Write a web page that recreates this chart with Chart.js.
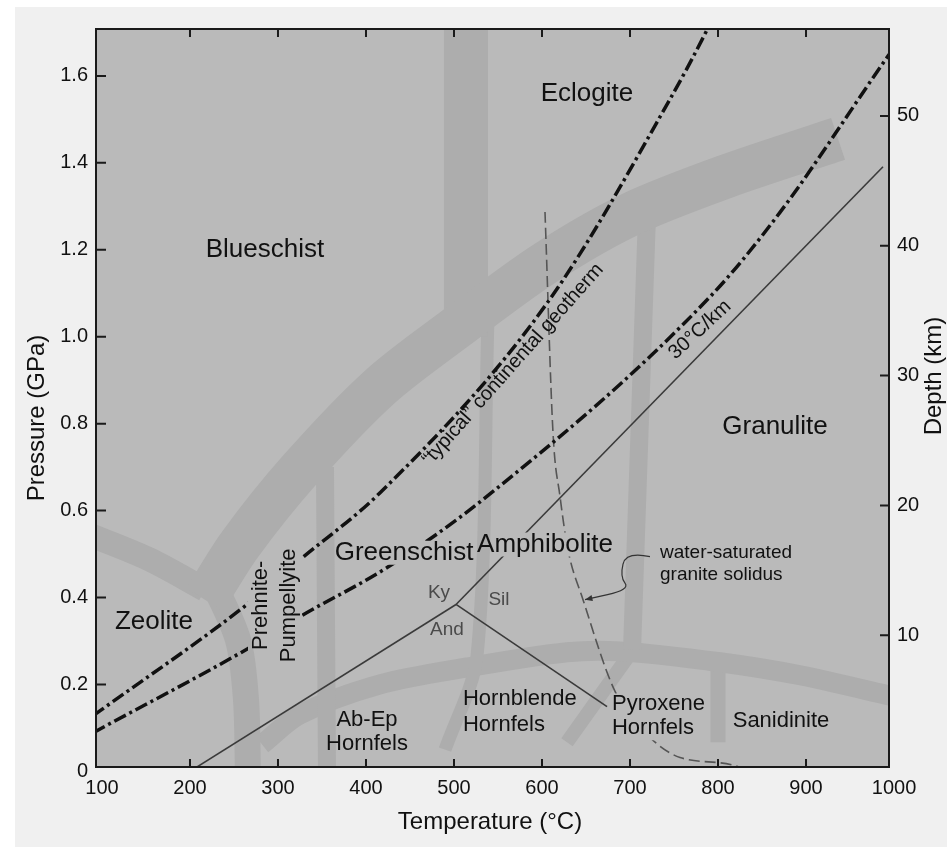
<!DOCTYPE html>
<html>
<head>
<meta charset="utf-8">
<script src="https://cdn.jsdelivr.net/npm/chart.js@4.4.0/dist/chart.umd.min.js"></script>
<style>
  html, body { margin: 0; padding: 0; background: #fff; }
  #wrap { position: absolute; left: 15px; top: 7px; width: 932px; height: 840px; }
</style>
</head>
<body>
<div id="wrap"><canvas id="chart" width="932" height="840"></canvas></div>
<script>
// axis ticks
const tempTicks = [100, 200, 300, 400, 500, 600, 700, 800, 900, 1000];
const pressureTicks = [0, 0.2, 0.4, 0.6, 0.8, 1.0, 1.2, 1.4, 1.6];
const depthTicks = [10, 20, 30, 40, 50];

// geotherms (T °C, P GPa)
const geoTypicalT = [90, 268, 325, 416, 606, 745, 788, 800];
const geoTypicalP = [0.128, 0.389, 0.487, 0.641, 1.078, 1.545, 1.708, 1.76];
const geo30T = [90, 268, 325, 424, 537, 791, 870, 994, 1000];
const geo30P = [0.089, 0.285, 0.356, 0.469, 0.632, 1.092, 1.285, 1.648, 1.665];

// Al2SiO5 reactions + granite solidus
const kyAndT = [200, 502.3];
const kyAndP = [0.0, 0.384];
const kySilT = [502.3, 987.5];
const kySilP = [0.384, 1.391];
const andSilT = [502.3, 673.9];
const andSilP = [0.384, 0.149];
const solidusT = [603.4, 612.5, 620.5, 629.5, 646.6, 683, 722.7, 756.8, 821.6, 830];
const solidusP = [1.287, 0.779, 0.632, 0.510, 0.395, 0.184, 0.078, 0.032, 0.0115, 0.0];

// facies boundary bands (centre lines)
const bandMainT = [217, 256.8, 325, 415.9, 503.4, 601.1, 698.9, 808, 936.4];
const bandMainP = [0.395, 0.522, 0.694, 0.885, 1.022, 1.166, 1.280, 1.368, 1.455];
const bandEcloT = [513.6, 513.6];
const bandEcloP = [1.75, 1.0];
const bandZeoTopT = [85, 154.5, 217];
const bandZeoTopP = [0.545, 0.487, 0.418];
const bandZeoT = [225, 254.5, 263.6, 265.9];
const bandZeoP = [0.441, 0.303, 0.166, -0.01];
const bandPpT = [353.4, 355.7];
const bandPpP = [0.70, -0.01];
const bandGsT = [538.6, 526.1, 489.8];
const bandGsP = [1.039, 0.264, 0.05];
const bandGranT = [719.3, 702.3];
const bandGranP = [1.28, 0.28];
const bandHfT = [281.8, 325, 415.9, 514.8, 628.4, 688.6, 802.3, 893.2, 1000];
const bandHfP = [0.062, 0.131, 0.2, 0.239, 0.274, 0.276, 0.251, 0.221, 0.172];
const bandPxT = [703.4, 628.4];
const bandPxP = [0.28, 0.067];
const bandSanT = [800, 800];
const bandSanP = [0.257, 0.067];

// text labels
const faciesNames = ['Eclogite', 'Blueschist', 'Zeolite', 'Greenschist', 'Amphibolite', 'Granulite'];
const faciesT = [651.1, 285.2, 159.1, 443.2, 603.4, 864.8];
const faciesP = [1.559, 1.2, 0.343, 0.503, 0.522, 0.793];
const hornfelsNames = ['Ab-Ep', 'Hornfels', 'Hornblende', 'Hornfels', 'Pyroxene', 'Hornfels', 'Sanidinite'];
const hornfelsT = [401.1, 401.1, 510.2, 510.2, 679.5, 679.5, 871.6];
const hornfelsP = [0.119, 0.064, 0.166, 0.106, 0.156, 0.099, 0.115];
const mineralNames = ['Ky', 'Sil', 'And'];
const mineralT = [483, 551.1, 492];
const mineralP = [0.411, 0.395, 0.326];
const arrowT = [722.7, 695.5, 688.6, 700, 648.9];
const arrowP = [0.494, 0.506, 0.448, 0.418, 0.395];

const FONT = "'Liberation Sans', Arial, Helvetica, sans-serif";
const pts = (ts, ps) => ts.map((t, i) => ({ x: t, y: ps[i] }));

function band(ts, ps, w) {
    return { data: pts(ts, ps), borderColor: '#adadad', borderWidth: w, pointRadius: 0,
        tension: 0.3, borderCapStyle: 'butt', borderJoinStyle: 'round', clip: 0, order: 10 };
}
function line(ts, ps, color, w, dash, smooth) {
    return { data: pts(ts, ps), borderColor: color, borderWidth: w, borderDash: dash, pointRadius: 0,
        cubicInterpolationMode: smooth ? 'monotone' : 'default', clip: 0, order: 1, knockout: true };
}

const dashDot = [13, 4, 3, 4];

const datasets = [
    band(bandMainT, bandMainP, 44),
    band(bandEcloT, bandEcloP, 44),
    band(bandZeoTopT, bandZeoTopP, 24),
    band(bandZeoT, bandZeoP, 26),
    band(bandPpT, bandPpP, 18),
    band(bandGsT, bandGsP, 13),
    band(bandGranT, bandGranP, 18),
    band(bandHfT, bandHfP, 20),
    band(bandPxT, bandPxP, 14),
    band(bandSanT, bandSanP, 15),
    line(geoTypicalT, geoTypicalP, '#111', 3.5, dashDot, true),
    line(geo30T, geo30P, '#111', 3.5, dashDot, true),
    line(kyAndT, kyAndP, '#3a3a3a', 1.6, [], false),
    line(kySilT, kySilP, '#3a3a3a', 1.6, [], false),
    line(andSilT, andSilP, '#3a3a3a', 1.6, [], false),
    line(solidusT, solidusP, '#555', 1.6, [11, 5], true)
];

function txt(ctx, s, x, y, size, color, align, angle) {
    ctx.save();
    ctx.translate(x, y);
    if (angle) ctx.rotate(angle * Math.PI / 180);
    ctx.font = size + 'px ' + FONT;
    ctx.fillStyle = color || '#111';
    ctx.textAlign = align || 'center';
    ctx.textBaseline = 'middle';
    ctx.fillText(s, 0, 0);
    ctx.restore();
}

function textWidth(ctx, s, size) {
    ctx.save();
    ctx.font = size + 'px ' + FONT;
    const w = ctx.measureText(s).width;
    ctx.restore();
    return w;
}

// areas where the lines are hidden behind a label
function knockoutBoxes(chart) {
    const { ctx, scales: { x, y } } = chart;
    const X = v => x.getPixelForValue(v), Y = v => y.getPixelForValue(v);
    const boxes = [];
    [3, 4].forEach(i => {
        const w = textWidth(ctx, faciesNames[i], 26);
        boxes.push([X(faciesT[i]) - w / 2 - 2, Y(faciesP[i]) - 12, w + 4, 24]);
    });
    const pw = textWidth(ctx, 'Pumpellyite', 22);
    boxes.push([X(296.6) - 27, Y(0.382) - pw / 2 - 2, 54, pw + 4]);
    const xw = textWidth(ctx, 'Pyroxene', 22);
    boxes.push([X(hornfelsT[4]) - 2, Y(hornfelsP[4]) - 10, xw + 4, Y(hornfelsP[5]) - Y(hornfelsP[4]) + 22]);
    return boxes;
}

const decor = {
    id: 'decor',
    beforeDraw(chart) {
        const { ctx, chartArea: a } = chart;
        ctx.save();
        ctx.fillStyle = '#f0f0f0';
        ctx.fillRect(0, 0, chart.width, chart.height);
        ctx.fillStyle = '#bababa';
        ctx.fillRect(a.left, a.top, a.width, a.height);
        ctx.restore();
    },
    beforeDatasetDraw(chart, args) {
        if (!chart.data.datasets[args.index].knockout) return;
        const ctx = chart.ctx;
        ctx.save();
        ctx.beginPath();
        ctx.rect(0, 0, chart.width, chart.height);
        knockoutBoxes(chart).forEach(b => ctx.rect(b[0], b[1], b[2], b[3]));
        ctx.clip('evenodd');
    },
    afterDatasetDraw(chart, args) {
        if (chart.data.datasets[args.index].knockout) chart.ctx.restore();
    },
    afterDatasetsDraw(chart) {
        const { ctx, scales: { x, y } } = chart;
        const X = v => x.getPixelForValue(v), Y = v => y.getPixelForValue(v);

        faciesNames.forEach((n, i) => txt(ctx, n, X(faciesT[i]), Y(faciesP[i]), 26));
        const hfAlign = ['center', 'center', 'left', 'left', 'left', 'left', 'center'];
        hornfelsNames.forEach((n, i) => txt(ctx, n, X(hornfelsT[i]), Y(hornfelsP[i]), 22, '#111', hfAlign[i]));
        mineralNames.forEach((n, i) => txt(ctx, n, X(mineralT[i]), Y(mineralP[i]), 19, '#4a4a4a'));

        // rotated Prehnite-Pumpellyite
        ctx.save();
        ctx.translate(X(296.6), Y(0.382));
        ctx.rotate(-Math.PI / 2);
        txt(ctx, 'Prehnite-', 0, -14, 22);
        txt(ctx, 'Pumpellyite', 0, 14, 22);
        ctx.restore();

        txt(ctx, 'water-saturated', X(734.1), Y(0.503), 19, '#111', 'left');
        txt(ctx, 'granite solidus', X(734.1), Y(0.453), 19, '#111', 'left');
        txt(ctx, '\u201ctypical\u201d continental geotherm', X(567), Y(0.936), 20, '#111', 'center', -48.5);
        txt(ctx, '30\u00b0C/km', X(779.5), Y(1.016), 20, '#111', 'center', -43);

        // curved arrow to solidus
        const p = arrowT.map((t, i) => [X(t), Y(arrowP[i])]);
        ctx.save();
        ctx.strokeStyle = '#333';
        ctx.lineWidth = 1.2;
        ctx.beginPath();
        ctx.moveTo(p[0][0], p[0][1]);
        for (let i = 1; i < p.length - 1; i++) {
            const mx = (p[i][0] + p[i + 1][0]) / 2, my = (p[i][1] + p[i + 1][1]) / 2;
            ctx.quadraticCurveTo(p[i][0], p[i][1], mx, my);
        }
        const e = p[p.length - 1], b = p[p.length - 2];
        ctx.lineTo(e[0], e[1]);
        ctx.stroke();
        const ang = Math.atan2(e[1] - b[1], e[0] - b[0]);
        ctx.fillStyle = '#333';
        ctx.beginPath();
        ctx.moveTo(e[0], e[1]);
        ctx.lineTo(e[0] - 8 * Math.cos(ang - 0.4), e[1] - 8 * Math.sin(ang - 0.4));
        ctx.lineTo(e[0] - 8 * Math.cos(ang + 0.4), e[1] - 8 * Math.sin(ang + 0.4));
        ctx.closePath();
        ctx.fill();
        ctx.restore();
    },
    afterDraw(chart) {
        const { ctx, chartArea: a, scales: { x, y, y1 } } = chart;
        ctx.save();
        ctx.strokeStyle = '#1a1a1a';
        ctx.lineWidth = 2;
        ctx.strokeRect(a.left, a.top, a.width, a.height);
        ctx.beginPath();
        tempTicks.forEach(v => {
            const px = x.getPixelForValue(v);
            if (px < a.left + 10 || px > a.right - 10) return;
            ctx.moveTo(px, a.bottom); ctx.lineTo(px, a.bottom - 8);
            ctx.moveTo(px, a.top); ctx.lineTo(px, a.top + 8);
        });
        pressureTicks.forEach(v => {
            const py = y.getPixelForValue(v);
            if (py > a.bottom - 10) return;
            ctx.moveTo(a.left, py); ctx.lineTo(a.left + 10, py);
        });
        depthTicks.forEach(v => {
            const py = y1.getPixelForValue(v);
            ctx.moveTo(a.right, py); ctx.lineTo(a.right - 9, py);
        });
        ctx.stroke();
        ctx.restore();

        txt(ctx, 'Temperature (\u00b0C)', 475, 815, 24);
        txt(ctx, 'Pressure (GPa)', 22, 411, 24, '#111', 'center', -90);
        txt(ctx, 'Depth (km)', 919, 369, 24, '#111', 'center', -90);
    }
};

const tickFont = { family: FONT, size: 20 };

new Chart(document.getElementById('chart'), {
    type: 'line',
    data: { datasets },
    options: {
        responsive: false,
        animation: false,
        events: [],
        layout: { padding: { top: 22, left: 0, right: 0, bottom: 0 } },
        plugins: { legend: { display: false }, tooltip: { enabled: false } },
        scales: {
            x: {
                type: 'linear', min: 93.2, max: 994.3,
                afterBuildTicks: s => { s.ticks = tempTicks.map(v => ({ value: v })); },
                afterFit: s => { s.height = 80; },
                grid: { display: false, drawTicks: false }, border: { display: false },
                ticks: { font: tickFont, color: '#111', padding: 9, autoSkip: false, maxRotation: 0,
                    callback: v => String(v) }
            },
            y: {
                type: 'linear', position: 'left', min: 0.01, max: 1.708,
                afterBuildTicks: s => { s.ticks = pressureTicks.map(v => ({ value: v })); },
                afterFit: s => { s.width = 81; },
                grid: { display: false, drawTicks: false }, border: { display: false },
                ticks: { font: tickFont, color: '#111', padding: 8, autoSkip: false,
                    callback: v => v === 0 ? '0' : v.toFixed(1) }
            },
            y1: {
                type: 'linear', position: 'right', min: -0.15, max: 56.7,
                afterBuildTicks: s => { s.ticks = depthTicks.map(v => ({ value: v })); },
                afterFit: s => { s.width = 58; },
                grid: { display: false, drawTicks: false }, border: { display: false },
                ticks: { font: tickFont, color: '#111', padding: 8, autoSkip: false,
                    callback: v => String(v) }
            }
        }
    },
    plugins: [decor]
});
</script>
</body>
</html>
